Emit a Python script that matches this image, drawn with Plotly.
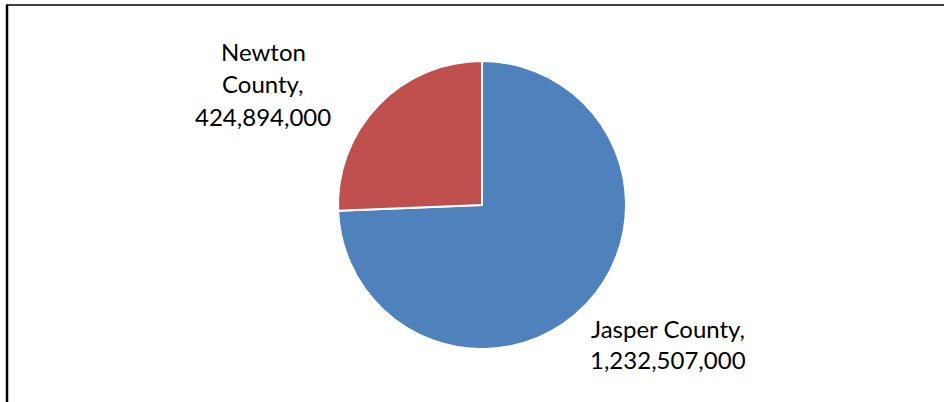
import plotly.graph_objects as go

labels = ["Jasper County", "Newton County"]
values = [1232507000, 424894000]
colors = ["#4F81BD", "#C0504D"]

W, H = 944, 402

fig = go.Figure(go.Pie(
    labels=labels,
    values=values,
    sort=False,
    direction="clockwise",
    rotation=0,
    marker=dict(colors=colors, line=dict(color="white", width=2)),
    textinfo="none",
    hoverinfo="label+value",
    showlegend=False,
    domain=dict(x=[(482 - 144) / W, (482 + 144) / W],
                y=[(197 - 144) / H, (197 + 144) / H]),
))

font = dict(family="Lato, Open Sans, sans-serif", size=24, color="black")

def px(x, y):
    return x / W, 1 - y / H

# label line texts built from data
newton_words = labels[1].split(" ")
newton_lines = [newton_words[0], newton_words[1] + ",", f"{values[1]:,}"]
jasper_lines = [labels[0] + ",", f"{values[0]:,}"]

annotations = []
for i, t in enumerate(newton_lines):
    x, y = px(263, 52 + 32 * i)
    annotations.append(dict(text=t, x=x, y=y, xref="paper", yref="paper",
                            showarrow=False, xanchor="center", yanchor="middle", font=font))
for i, t in enumerate(jasper_lines):
    x, y = px(668, 328 + 31 * i)
    annotations.append(dict(text=t, x=x, y=y, xref="paper", yref="paper",
                            showarrow=False, xanchor="center", yanchor="middle", font=font))

shapes = [
    dict(type="line", xref="paper", yref="paper", x0=7 / W, x1=7 / W, y0=0, y1=1 - 5 / H,
         line=dict(color="black", width=2.5)),
    dict(type="line", xref="paper", yref="paper", x0=6 / W, x1=1, y0=1 - 5 / H, y1=1 - 5 / H,
         line=dict(color="black", width=1.5)),
]

fig.update_layout(
    width=W, height=H,
    margin=dict(l=0, r=0, t=0, b=0),
    paper_bgcolor="white",
    plot_bgcolor="white",
    annotations=annotations,
    shapes=shapes,
)

fig.write_html("out.html", config={"displayModeBar": False},
               post_script="document.body.style.margin='0';")
